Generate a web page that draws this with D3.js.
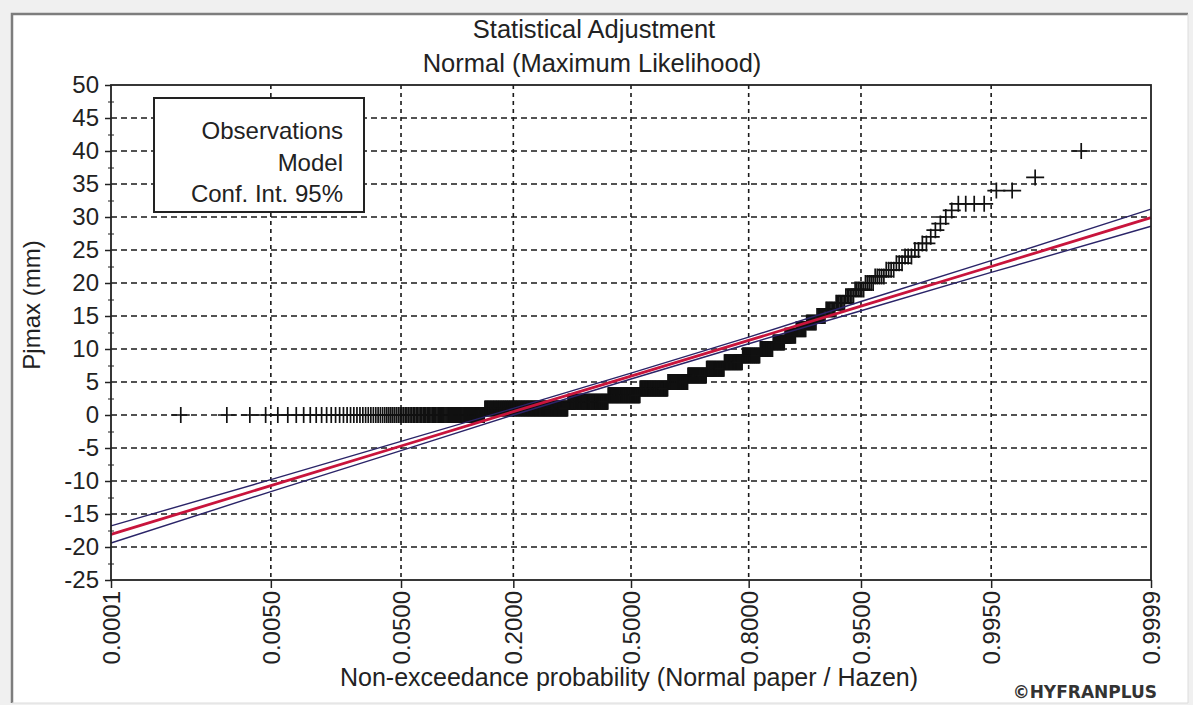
<!DOCTYPE html>
<html>
<head>
<meta charset="utf-8">
<script src="https://cdn.jsdelivr.net/npm/d3@7"></script>
<style>
  body { margin: 0; background: #f0f0f0; }
  svg { display: block; font-family: "Liberation Sans", Arial, sans-serif; }
</style>
</head>
<body>
<svg id="chart" width="1193" height="705"></svg>
<script>
// observed Pjmax values (mm) and how many years had each value
var obsValues = [0, 1, 2, 3, 4, 5, 6, 7, 8, 9, 10, 11, 12, 13, 14, 15, 16, 17, 18, 19,
                 20, 21, 22, 23, 24, 25, 26, 27, 28, 29, 30, 31, 32, 34, 36, 40];
var obsCounts = [115, 139, 85, 71, 61, 42, 37, 33, 31, 27, 18, 15, 13, 11, 10, 8, 8, 7, 6, 6,
                 5, 5, 4, 3, 3, 2, 2, 1, 1, 1, 1, 1, 4, 2, 1, 1];

// fitted normal model and 95% confidence band, read at the axis probabilities
var curveProb = [0.0001, 0.005, 0.05, 0.2, 0.5, 0.8, 0.95, 0.995, 0.9999];
var modelValue = [-18.1, -10.7, -4.7, 0.5, 5.9, 11.3, 16.5, 22.5, 29.9];
var ciUpper = [-16.8, -9.8, -4.0, 1.0, 6.35, 11.8, 17.2, 23.4, 31.2];
var ciLower = [-19.4, -11.6, -5.4, 0.0, 5.45, 10.8, 15.8, 21.6, 28.6];

var probTicks = [0.0001, 0.005, 0.05, 0.2, 0.5, 0.8, 0.95, 0.995, 0.9999];
var probLabels = ["0.0001", "0.0050", "0.0500", "0.2000", "0.5000", "0.8000", "0.9500", "0.9950", "0.9999"];
var yTicks = [-25, -20, -15, -10, -5, 0, 5, 10, 15, 20, 25, 30, 35, 40, 45, 50];
var legendLabels = ["Observations", "Model", "Conf. Int. 95%"];

// inverse normal cdf (Acklam) for the normal probability paper
function qnorm(p) {
  var a = [-3.969683028665376e+01, 2.209460984245205e+02, -2.759285104469687e+02, 1.383577518672690e+02, -3.066479806614716e+01, 2.506628277459239e+00];
  var b = [-5.447609879822406e+01, 1.615858368580409e+02, -1.556989798598866e+02, 6.680131188771972e+01, -1.328068155288572e+01];
  var c = [-7.784894002430293e-03, -3.223964580411365e-01, -2.400758277161838e+00, -2.549671010163911e+00, 4.374664141464968e+00, 2.938163982698783e+00];
  var d = [7.784695709041462e-03, 3.224671290700398e-01, 2.445134137142996e+00, 3.754408661907416e+00];
  var pl = 0.02425, q, r;
  if (p < pl) {
    q = Math.sqrt(-2 * Math.log(p));
    return (((((c[0]*q+c[1])*q+c[2])*q+c[3])*q+c[4])*q+c[5]) / ((((d[0]*q+d[1])*q+d[2])*q+d[3])*q+1);
  }
  if (p > 1 - pl) {
    q = Math.sqrt(-2 * Math.log(1 - p));
    return -(((((c[0]*q+c[1])*q+c[2])*q+c[3])*q+c[4])*q+c[5]) / ((((d[0]*q+d[1])*q+d[2])*q+d[3])*q+1);
  }
  q = p - 0.5; r = q * q;
  return (((((a[0]*r+a[1])*r+a[2])*r+a[3])*r+a[4])*r+a[5])*q / (((((b[0]*r+b[1])*r+b[2])*r+b[3])*r+b[4])*r+1);
}

var W = 1193, H = 705;
var plotL = 111, plotR = 1151, plotT = 85, plotB = 580;

var svg = d3.select("#chart");

// window frame
svg.append("rect").attr("width", W).attr("height", H).attr("fill", "#f0f0f0");
svg.append("rect").attr("x", 12).attr("y", 14).attr("width", 1176).attr("height", 689).attr("fill", "#fff");
svg.append("path").attr("d", "M12,703V14H1188").attr("fill", "none").attr("stroke", "#7d7d7d").attr("stroke-width", 2.5);
svg.append("path").attr("d", "M1188,14V703H12").attr("fill", "none").attr("stroke", "#dcdcdc").attr("stroke-width", 1);

var zMax = qnorm(0.9999);
var x = d3.scaleLinear().domain([-zMax, zMax]).range([plotL, plotR]);
var y = d3.scaleLinear().domain([-25, 50]).range([plotB, plotT]);
function px(p) { return x(qnorm(p)); }

// grid
svg.append("g").selectAll("line")
  .data(yTicks.filter(function(v) { return v > -25 && v < 50; }))
  .join("line")
  .attr("x1", plotL).attr("x2", plotR)
  .attr("y1", function(d) { return y(d); }).attr("y2", function(d) { return y(d); })
  .attr("stroke", "#1a1a1a").attr("stroke-width", 1.6).attr("stroke-dasharray", "6,4");
svg.append("g").selectAll("line")
  .data(probTicks.slice(1, -1))
  .join("line")
  .attr("x1", px).attr("x2", px)
  .attr("y1", plotT).attr("y2", plotB)
  .attr("stroke", "#1a1a1a").attr("stroke-width", 1.6).attr("stroke-dasharray", "4,4");

// observations, Hazen plotting positions
var obs = [];
obsValues.forEach(function(v, i) {
  for (var k = 0; k < obsCounts[i]; k++) obs.push(v);
});
var n = obs.length;
svg.append("g").selectAll("path")
  .data(obs)
  .join("path")
  .attr("d", "M-9,0H9M0,-8V8")
  .attr("transform", function(d, i) { return "translate(" + px((i + 0.5) / n) + "," + y(d) + ")"; })
  .attr("stroke", "#111").attr("stroke-width", 1.7).attr("fill", "none");

// model and confidence lines
var line = d3.line()
  .x(function(d) { return px(d[0]); })
  .y(function(d) { return y(d[1]); });
function pts(vals) { return curveProb.map(function(p, i) { return [p, vals[i]]; }); }
[ciUpper, ciLower].forEach(function(vals) {
  svg.append("path").attr("d", line(pts(vals)))
    .attr("fill", "none").attr("stroke", "#2a2468").attr("stroke-width", 1.4);
});
svg.append("path").attr("d", line(pts(modelValue)))
  .attr("fill", "none").attr("stroke", "#c8143c").attr("stroke-width", 2.8);

// plot frame
svg.append("rect").attr("x", plotL).attr("y", plotT)
  .attr("width", plotR - plotL).attr("height", plotB - plotT)
  .attr("fill", "none").attr("stroke", "#222").attr("stroke-width", 1.8);

// axes
var yAxis = svg.append("g").attr("transform", "translate(" + plotL + ",0)")
  .call(d3.axisLeft(y).tickValues(yTicks).tickSize(6).tickPadding(6)
    .tickFormat(function(d) { return String(d); }));
yAxis.select(".domain").remove();
yAxis.attr("font-size", 24).attr("font-family", "Liberation Sans, Arial, sans-serif");
yAxis.selectAll("text").attr("fill", "#222");
yAxis.selectAll("line").attr("stroke", "#222").attr("stroke-width", 1.5);

var minor = d3.range(-22.5, 50, 5);
var yMinor = svg.append("g").attr("transform", "translate(" + plotL + ",0)")
  .call(d3.axisLeft(y).tickValues(minor).tickSize(3).tickFormat(""));
yMinor.select(".domain").remove();
yMinor.selectAll("line").attr("stroke", "#222").attr("x2", 3).attr("x1", -3);

var xAxis = svg.append("g").attr("transform", "translate(0," + plotB + ")")
  .call(d3.axisBottom(x).tickValues(probTicks.map(qnorm)).tickSize(8)
    .tickFormat(function(d, i) { return probLabels[i]; }));
xAxis.select(".domain").remove();
xAxis.attr("font-size", 24).attr("font-family", "Liberation Sans, Arial, sans-serif");
xAxis.selectAll("line").attr("stroke", "#222").attr("stroke-width", 1.5);
xAxis.selectAll("text")
  .attr("fill", "#222")
  .attr("transform", "rotate(-90)")
  .attr("x", -11).attr("y", 0).attr("dy", "0.35em")
  .style("text-anchor", "end");

// titles
var title = svg.append("text").attr("x", 594).attr("text-anchor", "middle")
  .attr("font-size", 25.5).attr("fill", "#222");
title.append("tspan").attr("x", 594).attr("y", 38).text("Statistical Adjustment");
title.append("tspan").attr("x", 592).attr("y", 72).text("Normal (Maximum Likelihood)");

svg.append("text").attr("x", 629).attr("y", 686).attr("text-anchor", "middle")
  .attr("font-size", 25).attr("fill", "#222")
  .text("Non-exceedance probability (Normal paper / Hazen)");

svg.append("text").attr("transform", "translate(40,305) rotate(-90)")
  .attr("text-anchor", "middle").attr("font-size", 24).attr("fill", "#222")
  .text("Pjmax (mm)");

svg.append("text").attr("x", 1157).attr("y", 698).attr("text-anchor", "end")
  .attr("font-family", "DejaVu Sans, sans-serif").attr("font-weight", "bold")
  .attr("font-size", 17).attr("fill", "#333")
  .text("\u00A9HYFRANPLUS");

// legend
var legend = svg.append("g");
legend.append("rect").attr("x", 154).attr("y", 98).attr("width", 210).attr("height", 114)
  .attr("fill", "#fff").attr("stroke", "#222").attr("stroke-width", 2);
legend.selectAll("text")
  .data(legendLabels)
  .join("text")
  .attr("x", 343)
  .attr("y", function(d, i) { return 139 + i * 31.5; })
  .attr("text-anchor", "end").attr("font-size", 24).attr("fill", "#222")
  .text(function(d) { return d; });
</script>
</body>
</html>
